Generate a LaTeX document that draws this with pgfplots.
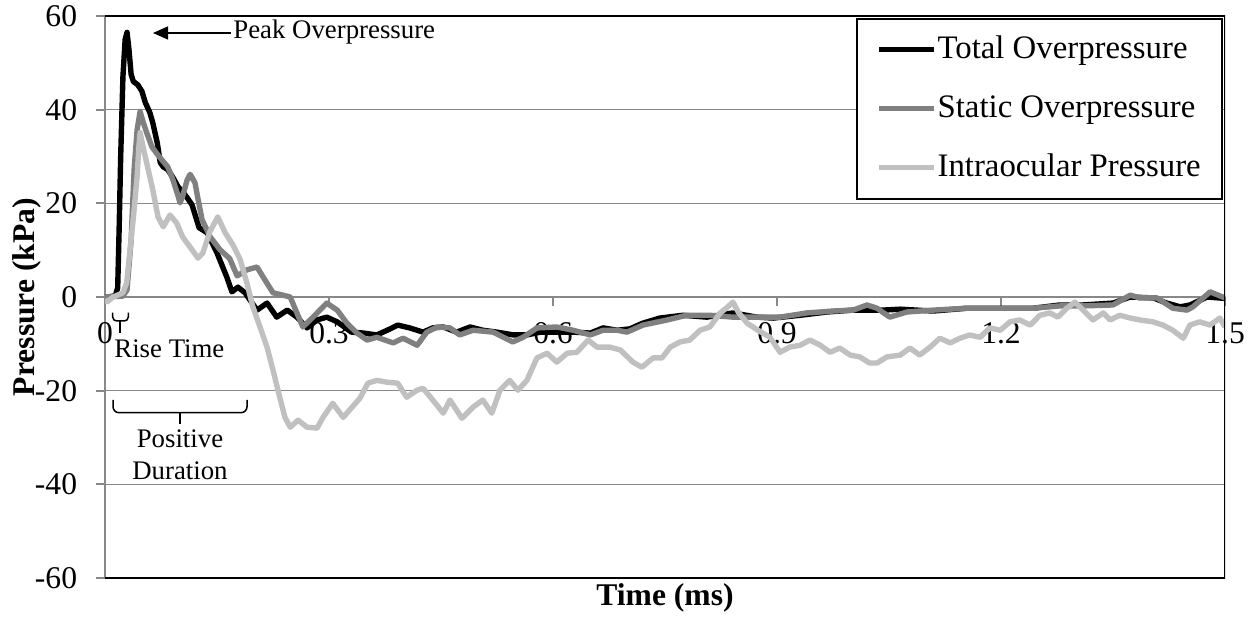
\documentclass[border=0pt]{standalone}
\usepackage{fontspec}
\setmainfont{Liberation Serif}
\usepackage{pgfplots}
\pgfplotsset{compat=1.18}
\usetikzlibrary{arrows.meta}
\definecolor{totalc}{HTML}{000000}
\definecolor{staticc}{HTML}{808080}
\definecolor{iopc}{HTML}{C0C0C0}
\definecolor{gridc}{HTML}{888888}
% 1 px of the reference = 0.5bp, origin at the top left of the image
\tikzset{px/.style={x=0.5bp,y=-0.5bp,shift={(-52.5bp,289bp)}}}
\begin{document}
\fontsize{15.8bp}{19bp}\selectfont
\begin{tikzpicture}
\begin{axis}[
  at={(0,0)}, anchor=south west,
  scale only axis, width=560bp, height=281bp,
  xmin=0, xmax=1.5, ymin=-60, ymax=60,
  axis x line*=middle, axis y line*=left,
  hide obscured x ticks=false, hide obscured y ticks=false,
  xtick={0,0.3,0.6,0.9,1.2,1.5},
  ytick={-60,-40,-20,0,20,40,60},
  ymajorgrids, grid style={gridc, line width=0.8bp},
  axis line style={gridc, line width=0.9bp},
  tick style={gridc, line width=0.9bp},
  tick align=outside, major tick length=4.5bp,
  tick label style={font=\fontsize{15.8bp}{19bp}\selectfont},
  yticklabel style={xshift=-4bp},
  xticklabel style={yshift=-3bp},
  /pgf/number format/assume math mode=true,
  xlabel={\bfseries Time (ms)},
  ylabel={\bfseries Pressure (kPa)},
  x label style={at={(axis description cs:0.5,-0.0347)}, anchor=center},
  y label style={at={(axis description cs:-0.0696,0.5)}, anchor=center},
  legend style={at={(axis description cs:0.998,0.996)}, anchor=north east,
    draw=black, line width=1bp, fill=white,
    inner xsep=10bp, inner ysep=8bp, row sep=15bp,
    font=\fontsize{16.4bp}{19bp}\selectfont,
    nodes={inner sep=0.5bp}, cells={anchor=west}},
  legend image code/.code={\draw[#1, line width=2.5bp] (0bp,0bp) -- (27.5bp,0bp);},
  every axis plot/.append style={line width=2.7bp, line join=round},
]
\addplot[totalc] coordinates {
(0,0) (0.008,0.1) (0.014,0.3) (0.017,2) (0.019,15) (0.021,30) (0.024,47)
(0.027,55) (0.0295,56.5) (0.032,53) (0.035,47.5) (0.038,46) (0.044,45.3)
(0.0495,43.9) (0.054,41.5) (0.060,39.4) (0.064,37.2) (0.070,32.9) (0.074,28.7)
(0.078,27.8) (0.084,27.2) (0.091,25.5) (0.098,23.5) (0.104,22.5) (0.110,21.2)
(0.1165,19.7) (0.126,14.8) (0.137,13.7) (0.150,9.4) (0.163,4.3) (0.170,1.1)
(0.178,2.1) (0.1875,0.9) (0.2036,-2.8) (0.217,-1.3) (0.230,-4.3) (0.244,-2.8)
(0.257,-4.3) (0.2705,-6.6) (0.284,-4.9) (0.297,-4.3) (0.311,-5.3) (0.330,-7.5)
(0.346,-7.7) (0.364,-8.1) (0.378,-7.1) (0.392,-6.0) (0.408,-6.6) (0.426,-7.5)
(0.439,-6.6) (0.453,-6.4) (0.471,-7.5) (0.489,-6.4) (0.506,-7.1) (0.525,-7.5)
(0.547,-8.1) (0.565,-8.1) (0.583,-7.5) (0.605,-7.5) (0.627,-7.5) (0.650,-7.7)
(0.667,-6.6) (0.686,-7.1) (0.703,-6.8) (0.72,-5.6) (0.743,-4.5) (0.774,-3.9)
(0.806,-4.3) (0.841,-3.4) (0.873,-4.3) (0.895,-4.5) (0.931,-3.9) (0.967,-3.2)
(1.002,-2.8) (1.042,-2.8) (1.065,-2.6) (1.109,-3.0) (1.154,-2.4) (1.199,-2.4)
(1.243,-2.4) (1.279,-1.7) (1.31,-1.7) (1.35,-1.3) (1.373,0) (1.404,-0.2)
(1.422,-1.3) (1.44,-2.1) (1.453,-1.7) (1.476,0) (1.5,-0.3)
};
\addlegendentry{Total Overpressure}
\addplot[staticc] coordinates {
(0,0) (0.012,0.1) (0.024,0.2) (0.0295,1.5) (0.035,12.2) (0.039,27.2) (0.043,35.7)
(0.047,39.6) (0.051,37.4) (0.056,35.0) (0.063,32.0) (0.070,30.5) (0.076,29.3)
(0.084,27.8) (0.091,25.0) (0.098,21.5) (0.1005,20.1) (0.104,21.5) (0.110,25.0)
(0.114,26.2) (0.1205,24.4) (0.1245,21.0) (0.130,16.5) (0.141,12.8) (0.154,10.1)
(0.167,8.2) (0.177,4.5) (0.190,5.8) (0.2036,6.4) (0.2116,4.3) (0.225,0.9)
(0.238,0.4) (0.248,0) (0.257,-3.4) (0.265,-6.4) (0.2786,-4.3) (0.297,-1.3)
(0.311,-2.8) (0.324,-5.6) (0.3375,-7.7) (0.351,-9.2) (0.364,-8.6) (0.386,-9.8)
(0.399,-8.8) (0.418,-10.3) (0.431,-7.5) (0.445,-6.4) (0.462,-6.6) (0.475,-8.1)
(0.493,-7.1) (0.520,-7.5) (0.546,-9.6) (0.560,-8.6) (0.5785,-6.6) (0.605,-6.4)
(0.627,-7.1) (0.650,-8.1) (0.667,-7.1) (0.686,-7.1) (0.699,-7.5) (0.7205,-6.0)
(0.753,-4.9) (0.779,-3.9) (0.810,-3.9) (0.841,-4.3) (0.873,-4.3) (0.904,-4.3)
(0.940,-3.4) (0.975,-3.0) (1.002,-2.8) (1.0205,-1.7) (1.034,-2.4) (1.051,-4.3)
(1.074,-3.2) (1.109,-2.8) (1.154,-2.4) (1.199,-2.4) (1.243,-2.4) (1.279,-1.9)
(1.31,-1.9) (1.35,-1.7) (1.373,0.4) (1.386,-0.2) (1.409,-0.2) (1.430,-2.4)
(1.449,-2.8) (1.457,-2.1) (1.480,1.1) (1.5,-0.2)
};
\addlegendentry{Static Overpressure}
\addplot[iopc] coordinates {
(0,-0.5) (0.003,-1) (0.011,0) (0.024,0.9) (0.029,3) (0.0335,10) (0.038,17)
(0.043,25.7) (0.045,31.4) (0.047,35.1) (0.051,32) (0.057,27.8) (0.064,22.9)
(0.071,17.1) (0.078,15.0) (0.087,17.5) (0.096,15.8) (0.104,12.8) (0.1165,10.1)
(0.1245,8.3) (0.131,9.4) (0.1406,14.0) (0.151,17.1) (0.161,13.7) (0.171,11.2)
(0.181,8.0) (0.190,3.0) (0.198,-2.1) (0.2076,-6.4) (0.217,-10.7) (0.225,-15.6)
(0.234,-21.4) (0.241,-25.7) (0.248,-27.8) (0.2585,-26.3) (0.2705,-27.8)
(0.284,-28.0) (0.292,-25.7) (0.305,-22.7) (0.319,-25.7) (0.331,-23.5)
(0.3415,-21.6) (0.352,-18.4) (0.364,-17.8) (0.378,-18.2) (0.392,-18.4)
(0.404,-21.4) (0.418,-19.9) (0.426,-19.5) (0.439,-22.0) (0.453,-24.8)
(0.462,-22.0) (0.478,-25.9) (0.493,-23.5) (0.506,-22.0) (0.518,-24.8)
(0.529,-19.9) (0.542,-17.8) (0.553,-19.9) (0.565,-17.8) (0.5785,-13.0)
(0.592,-12.0) (0.605,-13.9) (0.619,-12.0) (0.632,-11.8) (0.647,-9.2)
(0.659,-10.7) (0.676,-10.7) (0.690,-11.3) (0.707,-13.9) (0.719,-15.0)
(0.734,-13.0) (0.746,-13.0) (0.757,-10.7) (0.770,-9.6) (0.783,-9.2)
(0.797,-7.1) (0.810,-6.4) (0.824,-3.4) (0.834,-2.1) (0.841,-1.1) (0.848,-3.2)
(0.860,-5.6) (0.8745,-7.1) (0.8906,-8.6) (0.904,-11.8) (0.917,-10.7)
(0.931,-10.3) (0.944,-9.2) (0.958,-10.3) (0.971,-11.8) (0.984,-10.9)
(0.998,-12.4) (1.011,-12.8) (1.024,-14.1) (1.034,-14.1) (1.047,-12.8)
(1.065,-12.4) (1.078,-10.9) (1.091,-12.4) (1.105,-10.7) (1.118,-8.8)
(1.132,-9.8) (1.145,-8.8) (1.158,-8.1) (1.172,-8.6) (1.185,-6.6) (1.199,-7.1)
(1.212,-5.3) (1.225,-4.9) (1.239,-6.0) (1.252,-3.9) (1.2655,-3.4) (1.276,-4.3)
(1.288,-2.4) (1.299,-1.1) (1.310,-2.8) (1.323,-4.9) (1.337,-3.4) (1.346,-4.9)
(1.359,-3.9) (1.373,-4.5) (1.386,-4.9) (1.4035,-5.3) (1.417,-6.0) (1.430,-7.1)
(1.444,-8.8) (1.453,-6.0) (1.466,-5.3) (1.480,-6.0) (1.493,-4.5) (1.5,-6.4)
};
\addlegendentry{Intraocular Pressure}
\draw[black, line width=1bp] (rel axis cs:0,1) -- (rel axis cs:1,1)
  -- (rel axis cs:1,0) -- (rel axis cs:0,0);
\end{axis}
% annotations
\begin{scope}[px, font=\fontsize{13.4bp}{16bp}\selectfont]
  \draw[line width=0.7bp, -{Triangle[length=7.5bp,width=6.5bp]}] (231,33) -- (153,33);
  \node[anchor=base west, inner sep=0] at (233,39) {Peak Overpressure};
  \draw[line width=0.75bp, rounded corners=2bp] (112.7,312.7) -- (112.7,321) -- (128.3,321) -- (128.3,312.7);
  \draw[line width=0.75bp] (120,321) -- (120,333);
  \node[anchor=base west, inner sep=0] at (114,358) {Rise Time};
  \draw[line width=0.75bp, rounded corners=3bp] (113,400) -- (113,412.7) -- (247,412.7) -- (247,400);
  \draw[line width=0.75bp] (180,412.7) -- (180,424);
  \node[anchor=base, inner sep=0] at (180,448) {Positive};
  \node[anchor=base, inner sep=0] at (180,480) {Duration};
\end{scope}
\pgfresetboundingbox
\begin{scope}[px]
  \useasboundingbox (0,0) rectangle (1255,619);
\end{scope}
\end{tikzpicture}
\end{document}
